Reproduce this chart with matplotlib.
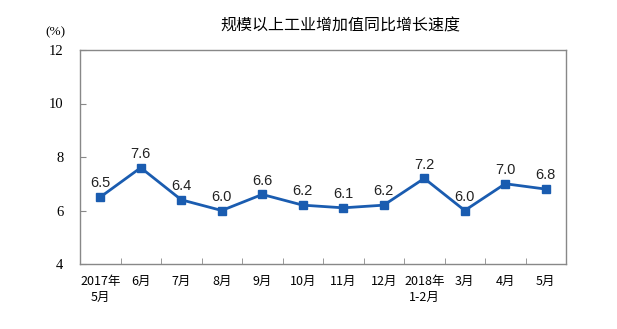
import numpy as np
import matplotlib.pyplot as plt

plt.rcParams['font.family'] = ['Noto Sans CJK SC', 'DejaVu Sans']

months = ['2017年\n5月', '6月', '7月', '8月', '9月', '10月', '11月', '12月',
          '2018年\n1-2月', '3月', '4月', '5月']
growth = [6.5, 7.6, 6.4, 6.0, 6.6, 6.2, 6.1, 6.2, 7.2, 6.0, 7.0, 6.8]
yticks = [4, 6, 8, 10, 12]

fig = plt.figure(figsize=(6.17, 3.29), dpi=100)
ax = fig.add_axes([80/617, 1 - 264/329, 486/617, 214/329])

x = np.arange(len(growth))
ax.plot(x, growth, color='#1a5cb0', lw=2, marker='s', ms=5.5, mfc='#1a5cb0', mec='#1a5cb0')
for xi, v in zip(x, growth):
    ax.text(xi, v + 0.25, f'{v:.1f}', ha='center', va='bottom', fontsize=10.5,
            family=['Liberation Sans'], color='#222222')

ax.set_xlim(-0.5, len(growth) - 0.5)
ax.set_ylim(4, 12)
ax.set_yticks(yticks)
ax.set_yticklabels([str(t) for t in yticks], family=['Liberation Serif'], fontsize=10.5)
ax.set_xticks(x)
ax.set_xticklabels(months, fontsize=9, linespacing=1.3)
ax.set_xticks(np.arange(0.5, len(growth) - 1, 1), minor=True)
ax.tick_params(axis='x', which='major', length=0, pad=8)
ax.tick_params(axis='x', which='minor', direction='in', length=4, color='#888888')
ax.tick_params(axis='y', direction='in', length=4, color='#888888', pad=12)
for s in ax.spines.values():
    s.set_color('#888888')
    s.set_linewidth(1)

fig.text(340/617, 1 - 26/329, '规模以上工业增加值同比增长速度', ha='center', va='center', fontsize=11.5)
fig.text(55/617, 1 - 32/329, '(%)', ha='center', va='center', fontsize=9.5,
         family=['Liberation Serif'])

fig.savefig('out.png', dpi=100)
